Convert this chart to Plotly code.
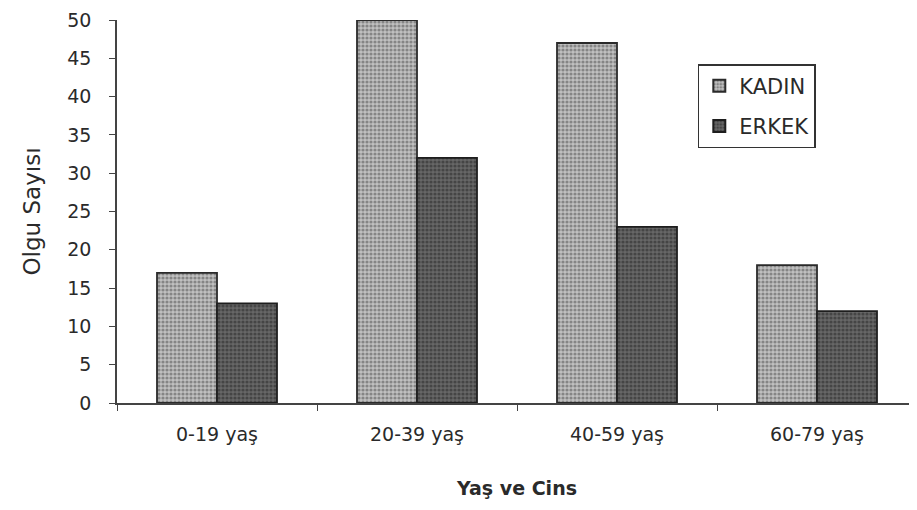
import plotly.graph_objects as go

categories = ["0-19 yaş", "20-39 yaş", "40-59 yaş", "60-79 yaş"]
kadin = [17, 50, 47, 18]
erkek = [13, 32, 23, 12]
y_ticks = [0, 5, 10, 15, 20, 25, 30, 35, 40, 45, 50]

font_family = "DejaVu Sans, Liberation Sans, Arial, sans-serif"
txt = "#2a2a2a"

fig = go.Figure()
fig.add_trace(go.Bar(
    name="KADIN", x=categories, y=kadin, legendgroup="k",
    marker=dict(color="#a8a8a8", line=dict(color="#2a2a2a", width=1.8),
                pattern=dict(shape=".", fgcolor="#4a4a4a", bgcolor="#c0c0c0",
                             size=4, solidity=0.5)),
))
fig.add_trace(go.Bar(
    name="ERKEK", x=categories, y=erkek, legendgroup="e",
    marker=dict(color="#4a4a4a", line=dict(color="#1e1e1e", width=1.8),
                pattern=dict(shape=".", fgcolor="#242424", bgcolor="#666666",
                             size=4, solidity=0.5)),
))

fig.update_layout(
    width=909, height=502,
    paper_bgcolor="white", plot_bgcolor="white",
    margin=dict(l=109, r=0, t=12, b=107),
    barmode="group", bargap=0.4, bargroupgap=0,
    font=dict(family=font_family, size=19, color=txt),
    showlegend=True,
    legend=dict(
        x=0.726, y=0.885, xanchor="left", yanchor="top",
        bordercolor="#333333", borderwidth=1.5, bgcolor="white",
        font=dict(size=21, color=txt),
        itemsizing="constant", tracegroupgap=10, traceorder="grouped",
        itemwidth=30,
    ),
    xaxis=dict(
        title=dict(text="<b>Yaş ve Cins</b>", font=dict(size=19, color=txt), standoff=38),
        showline=True, linecolor="#444444", linewidth=1.5,
        ticks="outside", tickson="boundaries", ticklen=6, tickcolor="#444444",
        showgrid=False, range=[-0.5, 3.5],
        tickfont=dict(size=19, color=txt), ticklabelstandoff=13,
    ),
    yaxis=dict(
        title=dict(text="Olgu Sayısı", font=dict(size=23, color=txt), standoff=20),
        range=[0, 50], tickvals=y_ticks,
        showline=True, linecolor="#444444", linewidth=1.5,
        ticks="outside", ticklen=6, tickcolor="#444444",
        showgrid=False, zeroline=False,
        tickfont=dict(size=19, color=txt), ticklabelstandoff=14,
    ),
)

fig.write_html("out.html")
